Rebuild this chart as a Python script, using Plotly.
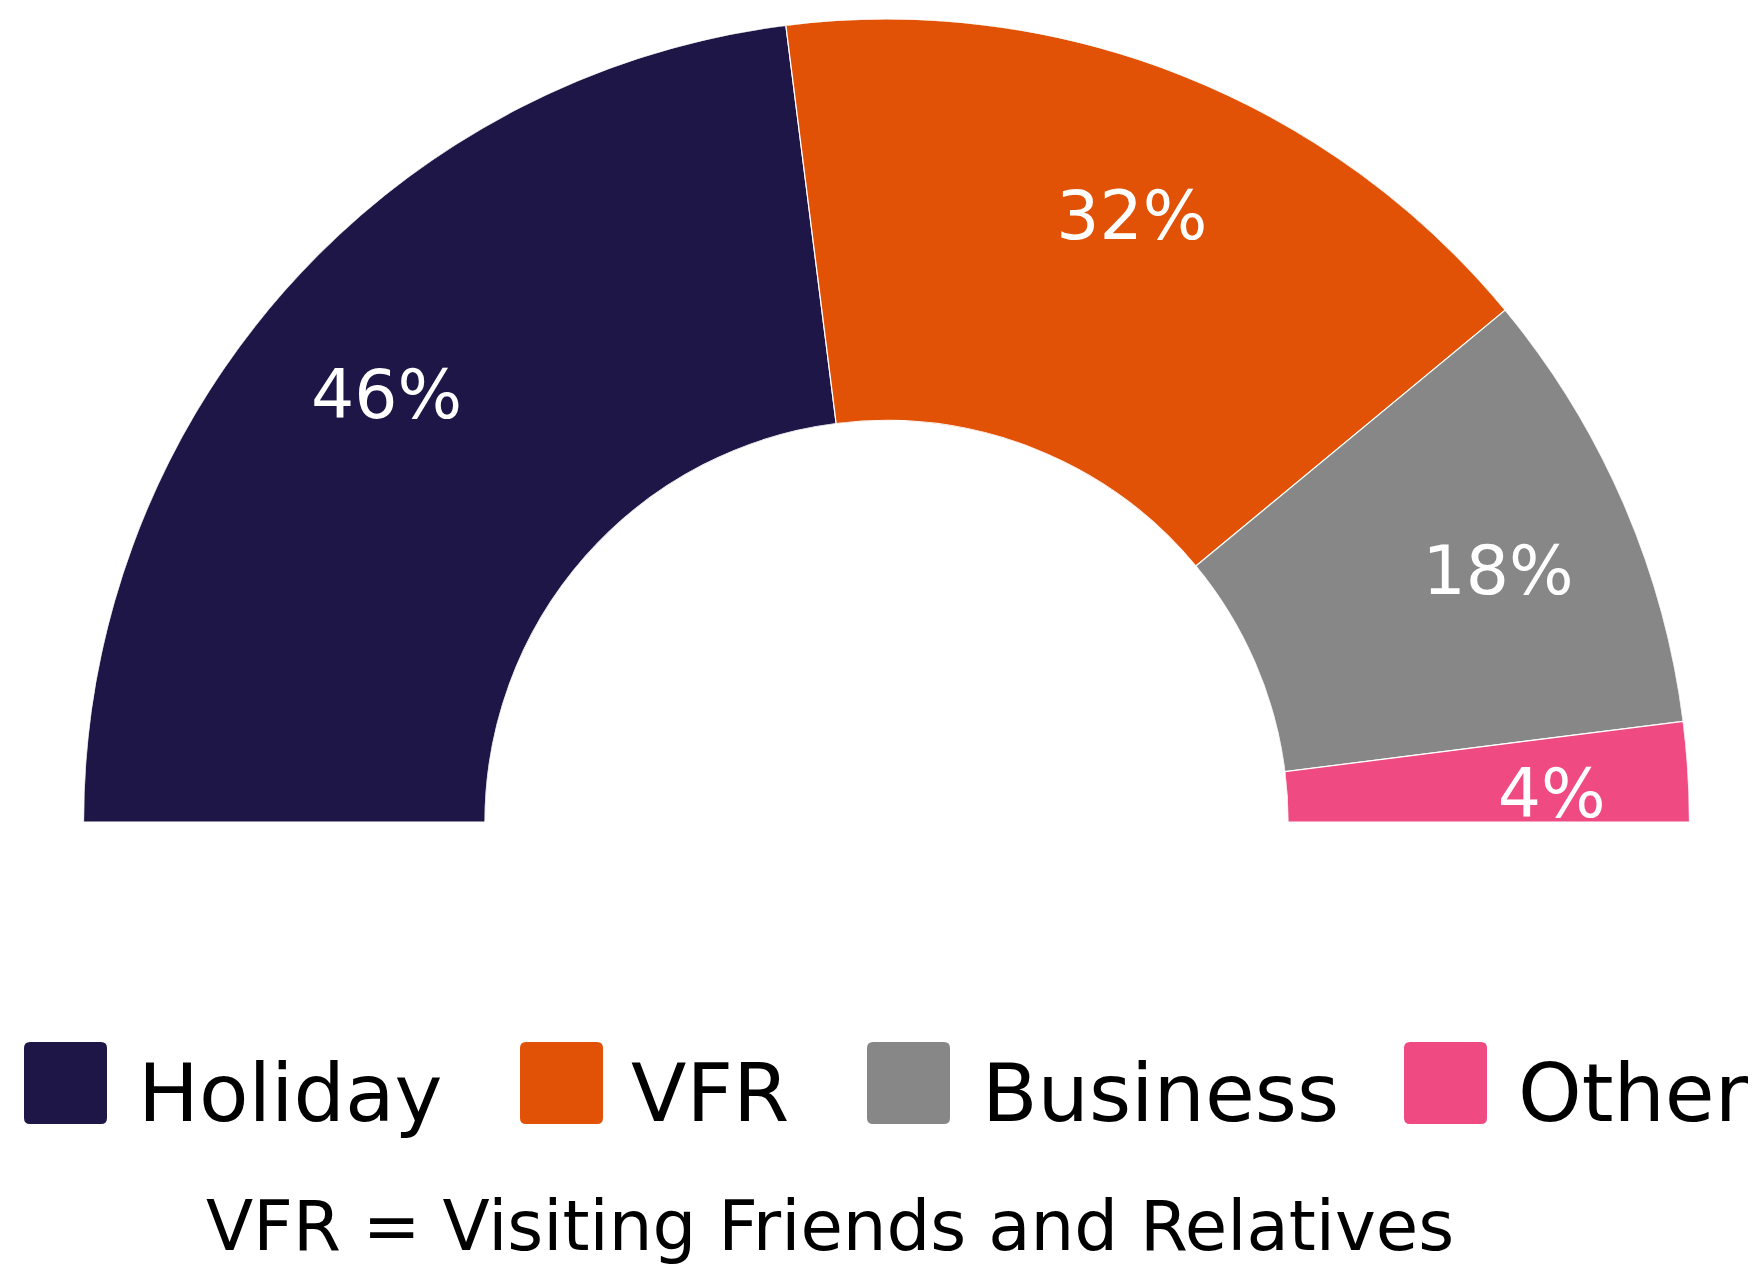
import math
import plotly.graph_objects as go

categories = ["Holiday", "VFR", "Business", "Other"]
values = [46, 32, 18, 4]
labels = ["46%", "32%", "18%", "4%"]
colors = ["#1E1646", "#E25206", "#878787", "#EF4A81"]
footnote = "VFR = Visiting Friends and Relatives"

W, H = 1763, 1274
OFF = 8  # default page body margin
FW, FH = W - OFF, H - OFF
FONT = "DejaVu Sans"
HOLE = 0.5
OUTER_PX = 803          # outer radius in pixels
LABEL_FRAC = 0.83       # label radius as fraction of outer radius
LABEL_DROP_PX = 20      # small downward offset of labels
total = sum(values)

# angles: half donut, starting at 180 deg going clockwise to 0 deg
mids, widths = [], []
cum = 0
for v in values:
    widths.append(v / total * 180)
    mids.append(180 - (cum + v / 2) / total * 180)
    cum += v

# label anchors derived from the slice mid-angles
lab_r, lab_t = [], []
drop = LABEL_DROP_PX / OUTER_PX
for m in mids:
    x = LABEL_FRAC * math.cos(math.radians(m))
    y = LABEL_FRAC * math.sin(math.radians(m)) - drop
    rf = math.hypot(x, y)
    lab_r.append((rf - HOLE) / (1 - HOLE))
    lab_t.append(math.degrees(math.atan2(y, x)))

fig = go.Figure()
fig.add_trace(go.Barpolar(
    r=[1] * len(values), theta=mids, width=widths,
    marker=dict(color=colors, line=dict(color="white", width=1.2)),
    showlegend=False, hoverinfo="skip",
))
fig.add_trace(go.Scatterpolar(
    r=lab_r, theta=lab_t, mode="text", text=labels,
    textfont=dict(family=FONT, size=68, color="white"),
    cliponaxis=True, showlegend=False, hoverinfo="skip",
))

def px(x):
    return (x - OFF) / FW

def py(y):
    return 1 - (y - OFF) / FH

fig.update_layout(
    width=FW, height=FH,
    margin=dict(l=0, r=0, t=0, b=0),
    paper_bgcolor="white", plot_bgcolor="white",
    polar=dict(
        domain=dict(x=[px(83), px(1690)], y=[py(822), py(19)]),
        sector=[0, 180], hole=HOLE,
        bgcolor="white",
        radialaxis=dict(visible=False, range=[0, 1]),
        angularaxis=dict(visible=False, direction="counterclockwise", rotation=0),
    ),
)

def rounded_rect(x0, y0, x1, y1, rad):
    # pixel coords -> paper path with rounded corners
    X = lambda v: px(v)
    Y = lambda v: py(v)
    return (f"M {X(x0 + rad)} {Y(y0)} L {X(x1 - rad)} {Y(y0)} "
            f"Q {X(x1)} {Y(y0)} {X(x1)} {Y(y0 + rad)} L {X(x1)} {Y(y1 - rad)} "
            f"Q {X(x1)} {Y(y1)} {X(x1 - rad)} {Y(y1)} L {X(x0 + rad)} {Y(y1)} "
            f"Q {X(x0)} {Y(y1)} {X(x0)} {Y(y1 - rad)} L {X(x0)} {Y(y0 + rad)} "
            f"Q {X(x0)} {Y(y0)} {X(x0 + rad)} {Y(y0)} Z")

# custom legend
swatch_x = [24, 520, 867, 1404]
text_x = [140, 633, 984, 1520]
shapes, annotations = [], []
for i, c in enumerate(categories):
    shapes.append(dict(type="path", xref="paper", yref="paper",
                       path=rounded_rect(swatch_x[i], 1042, swatch_x[i] + 83, 1124, 6),
                       fillcolor=colors[i], line=dict(width=0)))
    annotations.append(dict(text=c, xref="paper", yref="paper",
                            x=px(text_x[i] - 4), y=py(1093), xanchor="left", yanchor="middle",
                            showarrow=False,
                            font=dict(family=FONT, size=81, color="black")))
annotations.append(dict(text=footnote, xref="paper", yref="paper",
                        x=px(830), y=py(1226), xanchor="center", yanchor="middle",
                        showarrow=False,
                        font=dict(family=FONT, size=69, color="black")))
fig.update_layout(shapes=shapes, annotations=annotations)

fig.write_html("out.html")
